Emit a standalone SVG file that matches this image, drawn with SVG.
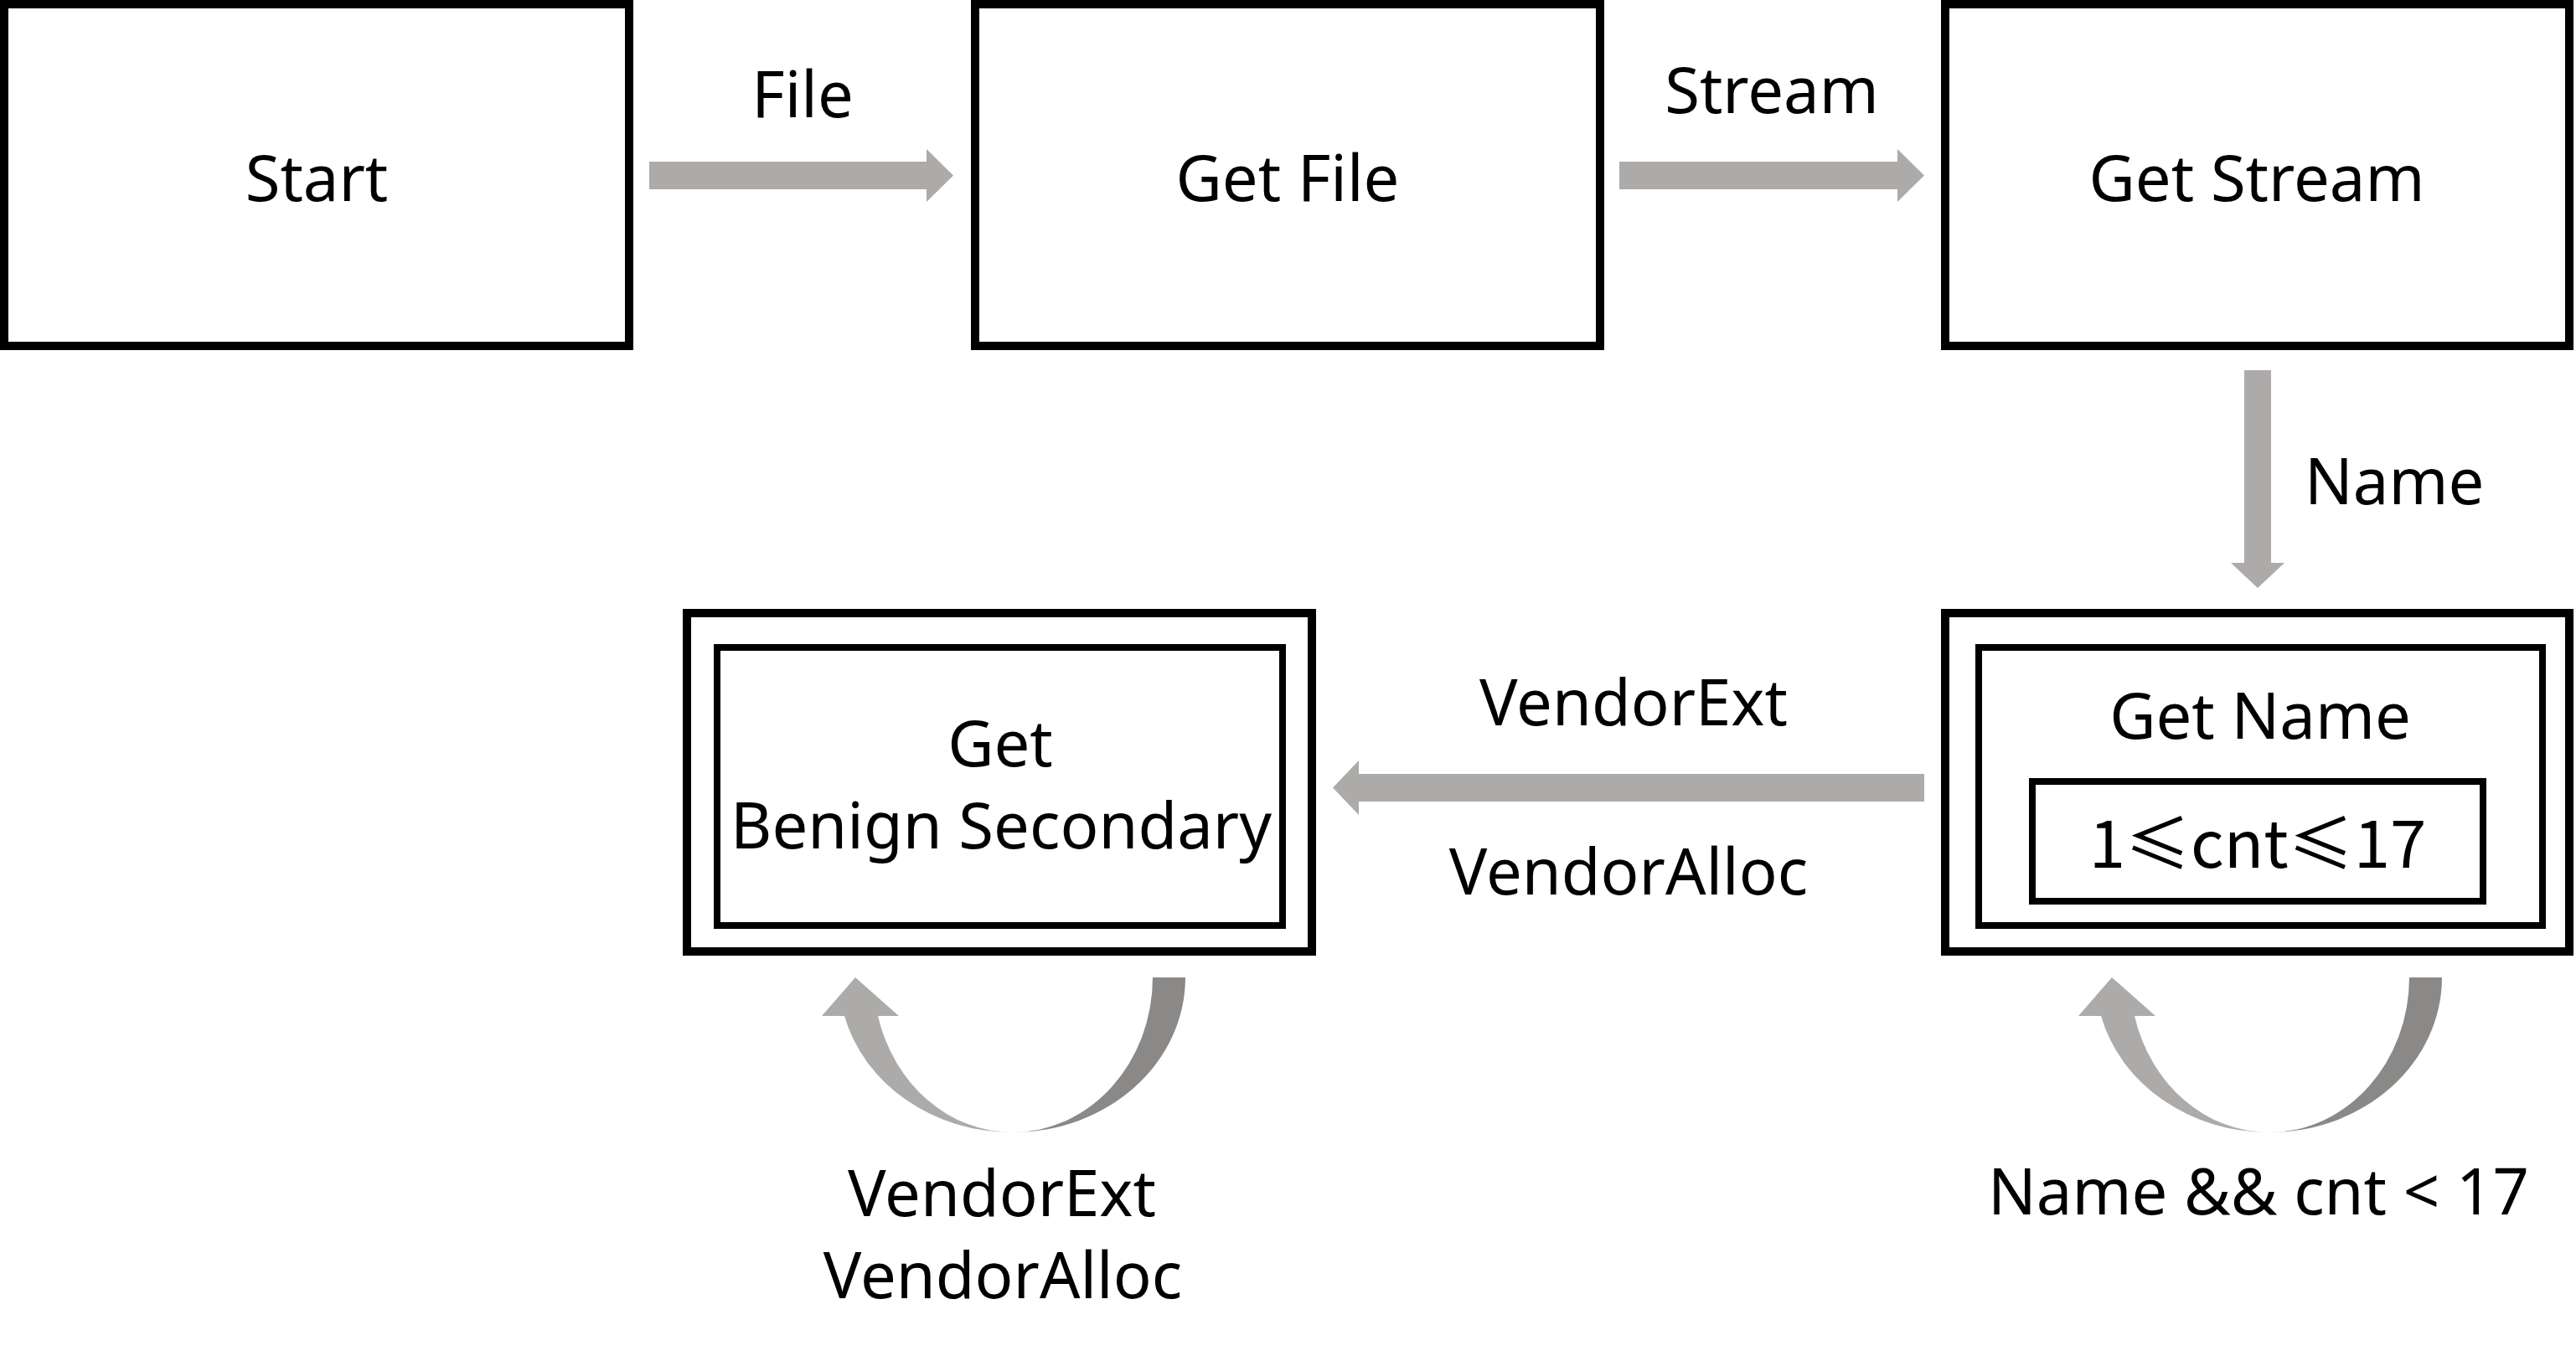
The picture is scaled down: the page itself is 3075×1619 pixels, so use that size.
<svg xmlns="http://www.w3.org/2000/svg" width="3075" height="1619" viewBox="0 0 3075 1619">
<style>
.box{fill:#fff;stroke:#000;stroke-width:10}
.in{fill:none;stroke:#000;stroke-width:8}
.t{font-family:"Noto Sans","Noto Sans CJK SC",sans-serif;font-size:76px;fill:#000;text-anchor:middle}
.ar{fill:#ADABAA}
.dk{fill:#8B8988}
</style>
<rect width="3075" height="1619" fill="#fff"/>
<g id="connectors">
<polygon class="ar" points="775,193 1106,193 1106,178 1138,209.5 1106,241 1106,226 775,226"/>
<polygon class="ar" points="1933,193 2265,193 2265,178 2297,209.5 2265,241 2265,226 1933,226"/>
<polygon class="ar" points="2679,442 2711,442 2711,672 2727,672 2695,702 2663,672 2679,672"/>
<polygon class="ar" points="2297,924 1622,924 1622,908 1591,940.5 1622,973 1622,957 2297,957"/>
<g id="loop1">
<path class="dk" d="M1415 1167 A206 185 0 0 1 1209 1352 A167 185 0 0 0 1376 1167 Z"/>
<path class="ar" d="M1209 1352 A207 185 0 0 1 1008 1213 L981 1213 L1021 1167 L1073 1213 L1048 1213 A166 185 0 0 0 1209 1352 Z"/>
</g>
<g id="loop2" transform="translate(1500,0)">
<path class="dk" d="M1415 1167 A206 185 0 0 1 1209 1352 A167 185 0 0 0 1376 1167 Z"/>
<path class="ar" d="M1209 1352 A207 185 0 0 1 1008 1213 L981 1213 L1021 1167 L1073 1213 L1048 1213 A166 185 0 0 0 1209 1352 Z"/>
</g>
<text class="t" x="958" y="140">File</text>
<text class="t" x="2115" y="135">Stream</text>
<text class="t" x="2751" y="602" style="text-anchor:start">Name</text>
<text class="t" x="1950" y="866">VendorExt</text>
<text class="t" x="1944" y="1068">VendorAlloc</text>
<text class="t" x="1196" y="1452">VendorExt</text>
<text class="t" x="1197" y="1550">VendorAlloc</text>
<text class="t" x="2696" y="1450">Name &amp;&amp; cnt &lt; 17</text>
</g>
<g id="start">
<rect class="box" x="5" y="5" width="746" height="408"/>
<text class="t" x="378" y="240">Start</text>
</g>
<g id="getfile">
<rect class="box" x="1164" y="5" width="746" height="408"/>
<text class="t" x="1537" y="240">Get File</text>
</g>
<g id="getstream">
<rect class="box" x="2322" y="5" width="745" height="408"/>
<text class="t" x="2694" y="240">Get Stream</text>
</g>
<g id="getname">
<rect class="box" x="2322" y="732" width="745" height="404"/>
<rect class="in" x="2362" y="773" width="673" height="332"/>
<rect class="in" x="2426" y="933" width="538" height="143"/>
<text class="t" x="2698" y="882">Get Name</text>
<text class="t" x="2695" y="1036" style="font-family:'Noto Sans CJK SC',sans-serif;font-size:78px">1≤cnt≤17</text>
</g>
<g id="getbenign">
<rect class="box" x="820" y="732" width="746" height="404"/>
<rect class="in" x="856" y="773" width="675" height="332"/>
<text class="t" x="1194" y="915">Get</text>
<text class="t" x="1195" y="1013">Benign Secondary</text>
</g>
</svg>
